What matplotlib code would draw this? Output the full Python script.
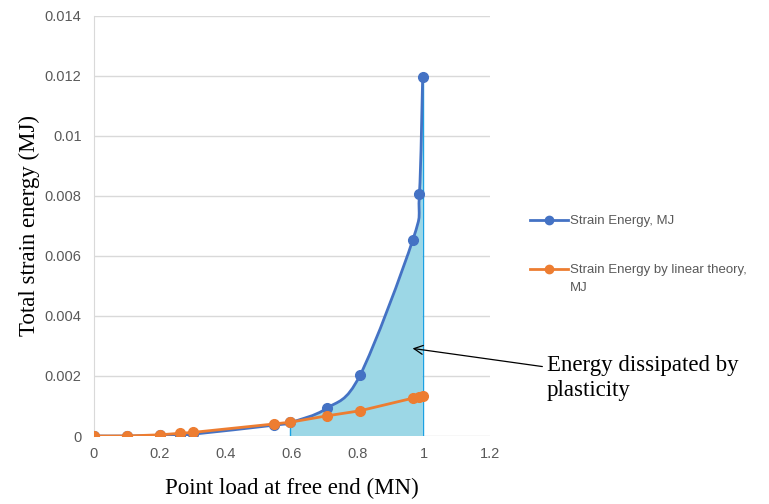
import matplotlib
matplotlib.use("Agg")
import matplotlib.pyplot as plt
from matplotlib.path import Path
from matplotlib.patches import PathPatch
from matplotlib.lines import Line2D
import numpy as np

# ---- data ----
load_mn = [0.0, 0.1, 0.2, 0.26, 0.3, 0.545, 0.595, 0.705, 0.806, 0.966, 0.986, 0.996]
strain_energy = [0.0, 0.0, 0.00002, 0.00004, 0.00006, 0.00036, 0.00045, 0.00092,
                 0.00202, 0.00653, 0.00805, 0.01197]
strain_energy_linear = [0.0, 0.0, 0.00004, 0.00009, 0.00012, 0.0004, 0.00046, 0.00067,
                        0.00084, 0.00126, 0.00131, 0.00132]
x_ticks = [0, 0.2, 0.4, 0.6, 0.8, 1, 1.2]
x_tick_labels = ["0", "0.2", "0.4", "0.6", "0.8", "1", "1.2"]
y_ticks = [0, 0.002, 0.004, 0.006, 0.008, 0.01, 0.012, 0.014]
y_tick_labels = ["0", "0.002", "0.004", "0.006", "0.008", "0.01", "0.012", "0.014"]
fill_start = 6  # index where dissipated-energy shading starts

BLUE = "#4472C4"
ORANGE = "#ED7D31"
FILL = "#9CD7E6"
VLINE = "#1BA1E2"
GRAY = "#595959"


def smooth_segments(xs, ys, i0, i1):
    """Catmull-Rom bezier control points (Excel-style smoothing) between i0..i1."""
    pts = np.column_stack([xs, ys]).astype(float)
    n = len(pts)
    verts, codes = [], []
    for i in range(i0, i1):
        p0 = pts[max(i - 1, 0)]
        p1 = pts[i]
        p2 = pts[i + 1]
        p3 = pts[min(i + 2, n - 1)]
        c1 = p1 + (p2 - p0) / 6.0
        c2 = p2 - (p3 - p1) / 6.0
        verts += [tuple(c1), tuple(c2), tuple(p2)]
        codes += [Path.CURVE4] * 3
    return verts, codes


fig = plt.figure(figsize=(7.69, 5.04), dpi=100)
ax = fig.add_axes([94 / 769, 1 - 436 / 504, (490 - 94) / 769, (436 - 15.7) / 504])

# shaded area (energy dissipated by plasticity)
xs = np.array(load_mn)
ys = np.array(strain_energy)
v, c = smooth_segments(xs, ys, fill_start, len(xs) - 1)
fverts = [(xs[fill_start], 0.0), (xs[fill_start], ys[fill_start])] + v + [(xs[-1], 0.0), (xs[fill_start], 0.0)]
fcodes = [Path.MOVETO, Path.LINETO] + c + [Path.LINETO, Path.CLOSEPOLY]
ax.add_patch(PathPatch(Path(fverts, fcodes), facecolor=FILL, edgecolor="none", zorder=1))
ax.plot([xs[fill_start], xs[fill_start]], [0, ys[fill_start]], color=VLINE, lw=1.0, zorder=2)
ax.plot([xs[-1], xs[-1]], [0, ys[-1]], color=VLINE, lw=1.0, zorder=2)

# blue smoothed line
v, c = smooth_segments(xs, ys, 0, len(xs) - 1)
bverts = [(xs[0], ys[0])] + v
bcodes = [Path.MOVETO] + c
ax.add_patch(PathPatch(Path(bverts, bcodes), facecolor="none", edgecolor=BLUE, lw=2.0, zorder=3))
ax.plot(load_mn, strain_energy, linestyle="none", marker="o", ms=7, color=BLUE, zorder=4)

# orange line
ax.plot(load_mn, strain_energy_linear, color=ORANGE, lw=2.0, marker="o", ms=7, zorder=5)

ax.set_xlim(0, 1.2)
ax.set_ylim(0, 0.014)
ax.set_xticks(x_ticks)
ax.set_xticklabels(x_tick_labels)
ax.set_yticks(y_ticks)
ax.set_yticklabels(y_tick_labels)
ax.grid(axis="y", color="#D9D9D9", lw=1.0)
ax.set_axisbelow(True)
for s in ["top", "right", "bottom"]:
    ax.spines[s].set_visible(False)
ax.spines["left"].set_color("#D9D9D9")
ax.tick_params(length=0, colors=GRAY, labelsize=10.5)
ax.tick_params(axis="x", pad=8)
ax.tick_params(axis="y", pad=9)
for lab in ax.get_xticklabels() + ax.get_yticklabels():
    lab.set_family("Liberation Sans")

ax.set_xlabel("Point load at free end (MN)", family="Liberation Serif", fontsize=16.5, labelpad=12)
ax.set_ylabel("Total strain energy (MJ)", family="Liberation Serif", fontsize=16.5, labelpad=3)

# legends
h1 = Line2D([], [], color=BLUE, lw=2, marker="o", ms=6)
h2 = Line2D([], [], color=ORANGE, lw=2, marker="o", ms=6)
legfont = {"family": "Liberation Sans", "size": 9.5}
legprops = dict(frameon=False, prop=legfont,
                handlelength=2.9, handletextpad=0.15, borderpad=0, borderaxespad=0,
                labelcolor=GRAY)
leg1 = fig.legend([h1], ["Strain Energy, MJ"], loc="center left",
                  bbox_to_anchor=(530 / 769, 1 - 221 / 504), **legprops)
leg2 = fig.legend([h2], ["Strain Energy by linear theory,"], loc="center left",
                  bbox_to_anchor=(530 / 769, 1 - 270 / 504), **legprops)
fig.text(570 / 769, 1 - 288 / 504, "MJ", ha="left", va="center", color=GRAY, **legfont)

# annotation
ax.annotate("", xy=(0.957, 0.00293), xytext=(1.367, 0.0023),
            arrowprops=dict(arrowstyle="->", color="black", lw=0.9, mutation_scale=16),
            annotation_clip=False)
fig.text(547 / 769, 1 - 378 / 504, "Energy dissipated by\nplasticity", ha="left", va="center",
         family="Liberation Serif", fontsize=16.5, linespacing=1.2)

fig.savefig("out.png", dpi=100)
